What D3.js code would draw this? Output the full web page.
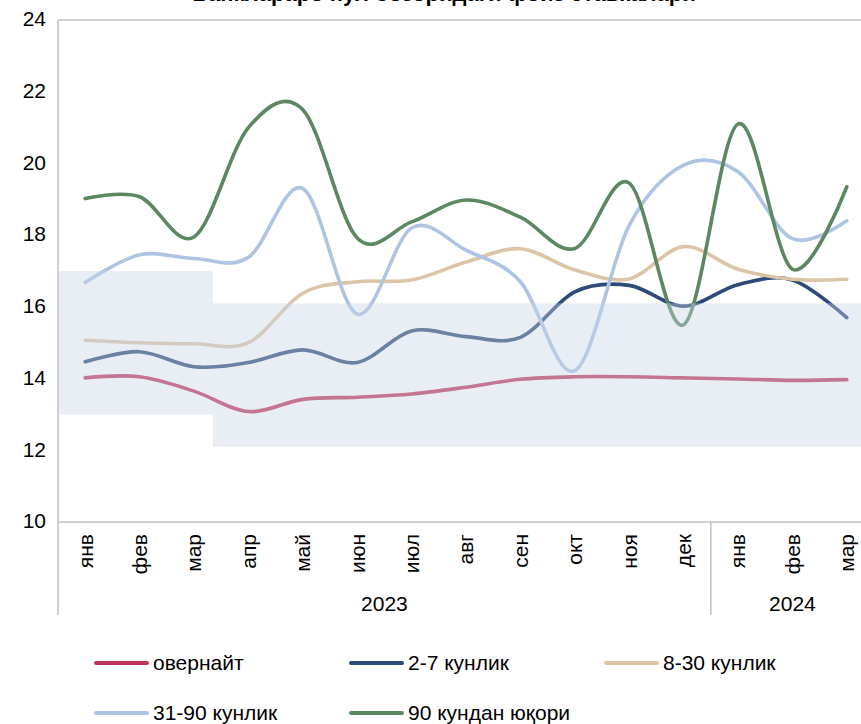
<!DOCTYPE html>
<html>
<head>
<meta charset="utf-8">
<script src="https://cdn.jsdelivr.net/npm/d3@7"></script>
<style>
  body { margin: 0; background: #fff; }
  svg { display: block; font-family: 'Liberation Sans', Arial, sans-serif; }
</style>
</head>
<body>
<svg id="canvas" width="861" height="724"></svg>
<script>
let months = ['янв','фев','мар','апр','май','июн','июл','авг','сен','окт','ноя','дек','янв','фев','мар']
let years = [{label: '2023', count: 12}, {label: '2024', count: 3}]
let yTicks = [10, 12, 14, 16, 18, 20, 22, 24]

let overnight = [14.02, 14.05, 13.65, 13.08, 13.42, 13.48, 13.57, 13.76, 13.98, 14.05, 14.05, 14.02, 13.99, 13.95, 13.97]
let days2to7 = [14.47, 14.75, 14.33, 14.45, 14.8, 14.45, 15.33, 15.17, 15.15, 16.42, 16.6, 16.02, 16.62, 16.75, 15.7]
let days8to30 = [15.07, 15.0, 14.97, 15.0, 16.38, 16.7, 16.75, 17.25, 17.62, 17.03, 16.78, 17.68, 17.05, 16.77, 16.77]
let days31to90 = [16.68, 17.45, 17.35, 17.38, 19.3, 15.8, 18.2, 17.58, 16.7, 14.22, 18.27, 19.95, 19.77, 17.9, 18.4]
let over90 = [19.02, 19.07, 17.95, 21.0, 21.5, 17.92, 18.37, 18.98, 18.5, 17.63, 19.45, 15.5, 21.1, 17.05, 19.35]

// interest rate corridor (from / to in month units along the axis)
let corridorFrom = [0, 2.83]
let corridorTo = [2.83, 15]
let corridorLow = [13, 12.1]
let corridorHigh = [17, 16.1]

let seriesNames = ['овернайт', '2-7 кунлик', '8-30 кунлик', '31-90 кунлик', '90 кундан юқори']
let seriesValues = [overnight, days2to7, days8to30, days31to90, over90]
let seriesColors = ['#c0365a', '#2d4a78', '#dcc5a7', '#afc4e3', '#5b8761']

let canvas = d3.select('#canvas')

let left = 58
let step = 54.4
let x = d3.scaleBand()
          .domain(d3.range(months.length))
          .range([left, left + step * months.length])
let xu = d3.scaleLinear()
           .domain([0, months.length])
           .range([left, left + step * months.length])
let y = d3.scaleLinear()
          .domain([10, 24])
          .range([522, 20])

let cx = (i) => x(i) + x.bandwidth() / 2

// title (cut off at the top of the picture, as in the source)
canvas.append('text')
      .attr('x', 444)
      .attr('y', 1)
      .attr('text-anchor', 'middle')
      .attr('font-size', 22)
      .attr('font-weight', 'bold')
      .text('Банклараро пул бозоридаги фоиз ставкалари')

let line = d3.line()
             .x((d, i) => cx(i))
             .y((d) => y(d))
             .curve(d3.curveCardinal.tension(0))

canvas.selectAll('path.series')
      .data(seriesValues)
      .enter()
      .append('path')
      .attr('class', 'series')
      .attr('d', (d) => line(d))
      .attr('fill', 'none')
      .attr('stroke', (d, i) => seriesColors[i])
      .attr('stroke-width', 3.6)
      .attr('stroke-linecap', 'round')

// corridor drawn over the lines, semi transparent
canvas.selectAll('rect.corridor')
      .data(corridorFrom)
      .enter()
      .append('rect')
      .attr('class', 'corridor')
      .attr('x', (d, i) => xu(d) + 1)
      .attr('width', (d, i) => xu(corridorTo[i]) - xu(d))
      .attr('y', (d, i) => y(corridorHigh[i]))
      .attr('height', (d, i) => y(corridorLow[i]) - y(corridorHigh[i]))
      .attr('fill', '#c8d4e6')
      .attr('opacity', 0.4)

// frame
let frame = canvas.append('g')
                  .attr('stroke', '#c3c3c3')
                  .attr('stroke-width', 1.6)
frame.append('line').attr('x1', left).attr('x2', 861).attr('y1', y(24)).attr('y2', y(24))
frame.append('line').attr('x1', left).attr('x2', 861).attr('y1', y(10)).attr('y2', y(10))
frame.append('line').attr('x1', left).attr('x2', left).attr('y1', y(24)).attr('y2', 615)
frame.append('line')
     .attr('x1', xu(years[0].count)).attr('x2', xu(years[0].count))
     .attr('y1', y(10)).attr('y2', 615)

// y axis labels
canvas.selectAll('text.ytick')
      .data(yTicks)
      .enter()
      .append('text')
      .attr('class', 'ytick')
      .attr('x', 46)
      .attr('y', (d) => y(d) - 1)
      .attr('dy', '0.35em')
      .attr('text-anchor', 'end')
      .attr('font-size', 21)
      .text((d) => d)

// month labels
canvas.selectAll('text.month')
      .data(months)
      .enter()
      .append('text')
      .attr('class', 'month')
      .attr('transform', (d, i) => 'translate(' + cx(i) + ',534) rotate(-90)')
      .attr('dy', '0.35em')
      .attr('text-anchor', 'end')
      .attr('font-size', 21)
      .text((d) => d)

// year labels
let start = 0
years.forEach((yr) => {
  canvas.append('text')
        .attr('x', xu(start + yr.count / 2))
        .attr('y', 604)
        .attr('dy', '0.35em')
        .attr('text-anchor', 'middle')
        .attr('font-size', 21)
        .text(yr.label)
  start += yr.count
})

// legend
let legendX = [95, 350, 605, 95, 350]
let legendY = [663, 663, 663, 713, 713]
let legend = canvas.selectAll('g.legend')
                   .data(seriesNames)
                   .enter()
                   .append('g')
                   .attr('class', 'legend')
                   .attr('transform', (d, i) => 'translate(' + legendX[i] + ',' + legendY[i] + ')')
legend.append('line')
      .attr('x1', 1).attr('x2', 52)
      .attr('y1', 0).attr('y2', 0)
      .attr('stroke', (d, i) => seriesColors[i])
      .attr('stroke-width', 4)
      .attr('stroke-linecap', 'round')
legend.append('text')
      .attr('x', 58)
      .attr('dy', '0.35em')
      .attr('font-size', 21)
      .text((d) => d)
</script>
</body>
</html>
